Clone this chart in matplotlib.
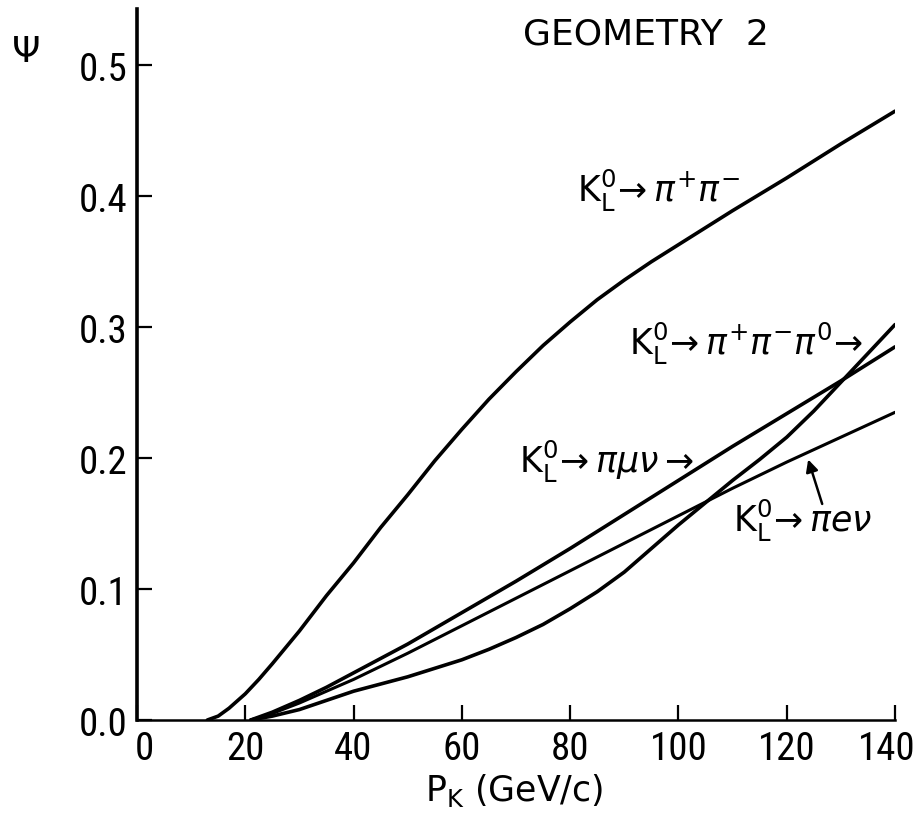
import matplotlib
matplotlib.use('Agg')
import matplotlib.pyplot as plt
from matplotlib import font_manager
from matplotlib.transforms import ScaledTranslation

# K_L -> pi+ pi-  (momentum in GeV/c, acceptance psi)
p_pipi = [13, 15, 17, 20, 22.5, 25, 30, 35, 40, 45, 50, 55, 60, 65, 70, 75, 80, 85, 90, 95,
          100, 110, 120, 130, 140]
psi_pipi = [0.0, 0.003, 0.009, 0.02, 0.031, 0.043, 0.068, 0.095, 0.12, 0.147, 0.172, 0.198,
            0.222, 0.245, 0.266, 0.286, 0.304, 0.321, 0.336, 0.350, 0.363, 0.389, 0.414,
            0.44, 0.465]

# three body modes
p_3body = [21, 25, 30, 35, 40, 50, 60, 70, 80, 90, 100, 110, 120, 130, 140]
psi_munu = [0.0, 0.006, 0.015, 0.025, 0.036, 0.058, 0.082, 0.106, 0.131, 0.157, 0.183, 0.209,
            0.234, 0.259, 0.285]
psi_enu = [0.0, 0.005, 0.013, 0.022, 0.031, 0.051, 0.072, 0.093, 0.114, 0.135, 0.156, 0.177,
           0.197, 0.216, 0.235]

p_3pi = [21, 25, 30, 35, 40, 50, 60, 65, 70, 75, 80, 85, 90, 95, 100, 105, 110, 115, 120,
         125, 130, 135, 140]
psi_3pi = [0.0, 0.003, 0.008, 0.015, 0.022, 0.033, 0.046, 0.054, 0.063, 0.073, 0.085, 0.098,
           0.113, 0.131, 0.149, 0.166, 0.183, 0.199, 0.216, 0.236, 0.258, 0.28, 0.302]

xticks = [0, 20, 40, 60, 80, 100, 120, 140]
yticks = [0.0, 0.1, 0.2, 0.3, 0.4, 0.5]

# look for a narrow face for the tick numbers
narrow_path = None
for key in ['LiberationSansNarrow-Regular', 'RobotoCondensed-Regular', 'DejaVuSansCondensed.ttf',
            'OpenSans_Condensed-Regular', 'Roboto_Condensed-Regular']:
    hits = [f.fname for f in font_manager.fontManager.ttflist if key in f.fname]
    if hits:
        narrow_path = hits[0]
        break
if narrow_path:
    tick_font = font_manager.FontProperties(fname=narrow_path, size=28)
else:
    tick_font = font_manager.FontProperties(family='Liberation Sans', size=22)

fig = plt.figure(figsize=(9.18, 8.2), dpi=100)
ax = fig.add_axes([0.1492, 0.1207, 0.8258, 0.8671])

lw = 2.6
ax.plot(p_pipi, psi_pipi, color='black', lw=lw, solid_capstyle='round')
ax.plot(p_3body, psi_munu, color='black', lw=lw, solid_capstyle='round')
ax.plot(p_3body, psi_enu, color='black', lw=lw * 0.85, solid_capstyle='round')
ax.plot(p_3pi, psi_3pi, color='black', lw=lw, solid_capstyle='round')

ax.set_xlim(0, 140)
ax.set_ylim(0, 0.543)
ax.spines['top'].set_visible(False)
ax.spines['right'].set_visible(False)
ax.spines['left'].set_linewidth(2.6)
ax.spines['bottom'].set_linewidth(1.8)

ax.set_xticks(xticks)
ax.set_yticks(yticks)
ax.set_xticklabels([str(t) for t in xticks])
ax.set_yticklabels(['%.1f' % t for t in yticks])
ax.tick_params(axis='both', direction='in', length=11, width=1.6, color='black')
ax.tick_params(axis='x', pad=7)
ax.tick_params(axis='y', pad=7)
for lab in ax.get_xticklabels() + ax.get_yticklabels():
    lab.set_fontproperties(tick_font)

# the first and last numbers sit a little off their ticks, as in the original
xlabs = ax.get_xticklabels()
xlabs[0].set_transform(xlabs[0].get_transform() + ScaledTranslation(5 / 72, 0, fig.dpi_scale_trans))
xlabs[-1].set_transform(xlabs[-1].get_transform() + ScaledTranslation(-6 / 72, 0, fig.dpi_scale_trans))

ax.set_xlabel(r'P$_\mathrm{K}$ (GeV/c)', fontsize=25)
ax.xaxis.set_label_coords(0.497, -0.072)
fig.text(0.029, 0.936, 'Ψ', fontsize=26, ha='center', va='center')

ax.text(94.0, 0.524, 'GEOMETRY  2', fontsize=26, ha='center', va='center')

lab_kw = dict(fontsize=25, ha='left', va='center')
ax.text(81.3, 0.405, r'K$_\mathrm{L}^\mathrm{0}$$\!\rightarrow\pi^{+}\pi^{-}$', **lab_kw)
ax.text(90.8, 0.288, r'K$_\mathrm{L}^\mathrm{0}$$\!\rightarrow\pi^{+}\pi^{-}\pi^\mathrm{0}\!\rightarrow$', **lab_kw)
ax.text(70.5, 0.198, r'K$_\mathrm{L}^\mathrm{0}$$\!\rightarrow\pi\mu\nu\rightarrow$', **lab_kw)
ax.text(110.0, 0.153, r'K$_\mathrm{L}^\mathrm{0}$$\!\rightarrow\pi e\nu$', **lab_kw)
ax.annotate('', xy=(123.8, 0.201), xytext=(126.7, 0.163),
            arrowprops=dict(arrowstyle='-|>', color='black', lw=1.8, mutation_scale=18))

fig.savefig('out.png', dpi=100)
